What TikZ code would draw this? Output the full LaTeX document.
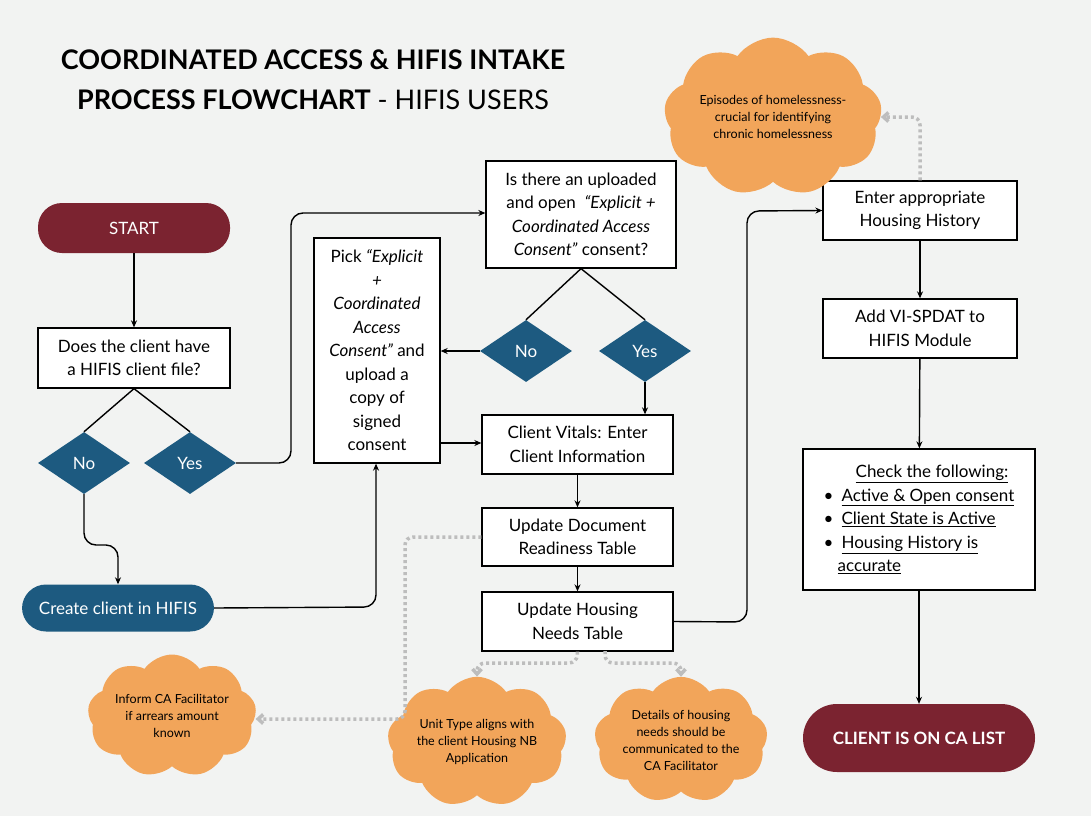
\documentclass[tikz,border=0pt]{standalone}
\usepackage{fontspec}
\setmainfont{Lato}
\usetikzlibrary{shapes.geometric,shapes.symbols,arrows.meta}
\definecolor{bg}{HTML}{F2F3F2}
\definecolor{maroon}{HTML}{7B2330}
\definecolor{navy}{HTML}{1D5A80}
\definecolor{cl}{HTML}{F2A55A}
\definecolor{dot}{HTML}{BDBDBD}
\begin{document}
\begin{tikzpicture}[x=1pt,y=-1pt,
 box/.style={draw=black,line width=1.3pt,fill=white,align=center,font=\fontsize{17}{23.5}\selectfont,inner sep=2pt},
 pill/.style={rounded corners=24pt,text=white,align=center,font=\fontsize{17}{20}\selectfont,inner sep=0pt},
 dia/.style={diamond,fill=navy,text=white,font=\fontsize{17}{20}\selectfont,minimum width=92pt,minimum height=62pt,inner sep=0pt,aspect=1.5},
 cloudn/.style={cloud,cloud puffs=9,cloud puff arc=110,aspect=1.6,fill=cl,align=center,font=\fontsize{12.5}{17}\selectfont,inner sep=0pt},
 arr/.style={line width=1.4pt,-{Stealth[length=7pt,width=6pt]},rounded corners=12pt},
 ln/.style={line width=1.4pt},
 dt/.style={line width=3.5pt,dot,dash pattern=on 3pt off 3pt,-{Straight Barb[length=5pt,width=9pt]},rounded corners=8pt}]
\fill[bg] (0,0) rectangle (1091,816);
\node[font=\bfseries\fontsize{27}{30}\selectfont] (t1) at (313,60) {COORDINATED ACCESS \& HIFIS INTAKE};
\node[font=\fontsize{27}{30}\selectfont] (t2) at (313,100) {\textbf{PROCESS FLOWCHART} - HIFIS USERS};

\node[pill,fill=maroon,minimum width=192pt,minimum height=50pt] (start) at (134,228) {START};
\node[box,minimum width=192pt,minimum height=60pt] (q1) at (134,358) {Does the client have\\a HIFIS client file?};
\node[dia] (no1) at (84,463) {No};
\node[dia] (yes1) at (190,463) {Yes};
\node[pill,fill=navy,minimum width=192pt,minimum height=47pt] (create) at (118,608) {Create client in HIFIS};
\node[box,minimum width=126pt,minimum height=225pt] (pick) at (377,350.5) {Pick \emph{“Explicit}\\\emph{+}\\\emph{Coordinated}\\\emph{Access}\\\emph{Consent”} and\\upload a\\copy of\\signed\\consent};
\node[box,minimum width=190pt,minimum height=107pt] (q2) at (581,214.5) {Is there an uploaded\\and open \ \emph{“Explicit +}\\\emph{Coordinated Access}\\\emph{Consent”} consent?};
\node[dia] (no2) at (526,351) {No};
\node[dia] (yes2) at (645,351) {Yes};
\node[box,minimum width=191pt,minimum height=59pt] (vit) at (577.5,444.5) {Client Vitals: Enter\\Client Information};
\node[box,minimum width=191pt,minimum height=58pt] (doc) at (577.5,537) {Update Document\\Readiness Table};
\node[box,minimum width=191pt,minimum height=59pt] (hn) at (577.5,621.5) {Update Housing\\Needs Table};
\node[box,minimum width=194pt,minimum height=59pt] (hh) at (920,210.5) {Enter appropriate\\Housing History};
\node[box,minimum width=194pt,minimum height=59pt] (vi) at (920,328.5) {Add VI-SPDAT to\\HIFIS Module};
\node[box,minimum width=232pt,minimum height=141pt,align=left] (chk) at (919,519.5) {\hspace*{32pt}\underline{Check the following:}\\\textbullet\hspace{8pt}\underline{Active \& Open consent}\\\textbullet\hspace{8pt}\underline{Client State is Active}\\\textbullet\hspace{8pt}\underline{Housing History is}\\\hspace*{14pt}\underline{accurate}};
\node[pill,fill=maroon,minimum width=232pt,minimum height=68pt,rounded corners=34pt,font=\bfseries\fontsize{17}{20}\selectfont] (list) at (919,738) {CLIENT IS ON CA LIST};

\node[cloudn,minimum width=180pt,minimum height=100pt] (c1) at (773,117) {Episodes of homelessness-\\crucial for identifying\\chronic homelessness};
\node[cloudn,minimum width=160pt,minimum height=105pt] (c2) at (172,716) {Inform CA Facilitator\\if arrears amount\\known};
\node[cloudn,minimum width=160pt,minimum height=105pt] (c3) at (477,742) {Unit Type aligns with\\the client Housing NB\\Application};
\node[cloudn,minimum width=160pt,minimum height=115pt] (c4) at (681,740) {Details of housing\\needs should be\\communicated to the\\CA Facilitator};

\draw[arr] (start) -- (q1);
\draw[ln] (q1.south) -- (no1.north);
\draw[ln] (q1.south) -- (yes1.north);
\draw[arr] (yes1.east) -- (291,463) -- (291,213) -- (q2.west |- 0,213);
\draw[arr] (no1.south) -- (84,545) -- (118,545) -- (create.north);
\draw[arr] (create.east) -- (376,607) -- (pick.south -| 376,0);
\draw[ln] (q2.south) -- (no2.north);
\draw[ln] (q2.south) -- (yes2.north);
\draw[arr] (no2.west) -- (pick.east |- no2);
\draw[arr] (yes2.south) -- (vit.north -| yes2);
\draw[arr] (pick.east |- 0,443) -- (vit.west |- 0,443);
\draw[arr] (vit) -- (doc);
\draw[arr] (doc) -- (hn);
\draw[arr] (hn.east) -- (747,622) -- (747,211) -- (hh.west);
\draw[arr] (hh) -- (vi);
\draw[arr] (vi) -- (chk);
\draw[arr] (chk) -- (list);
\draw[dt] (hh.north) -- (920,117) -- (c1.east);
\draw[dt] (doc.west) -- (405,537) -- (405,719) -- (c2.east |- 0,719);
\draw[dt] (hn.south) -- (577,663) -- (477,663) -- (c3.north);
\draw[dt] (605,651) -- (605,663) -- (681,663) -- (c4.north);
\end{tikzpicture}
\end{document}
